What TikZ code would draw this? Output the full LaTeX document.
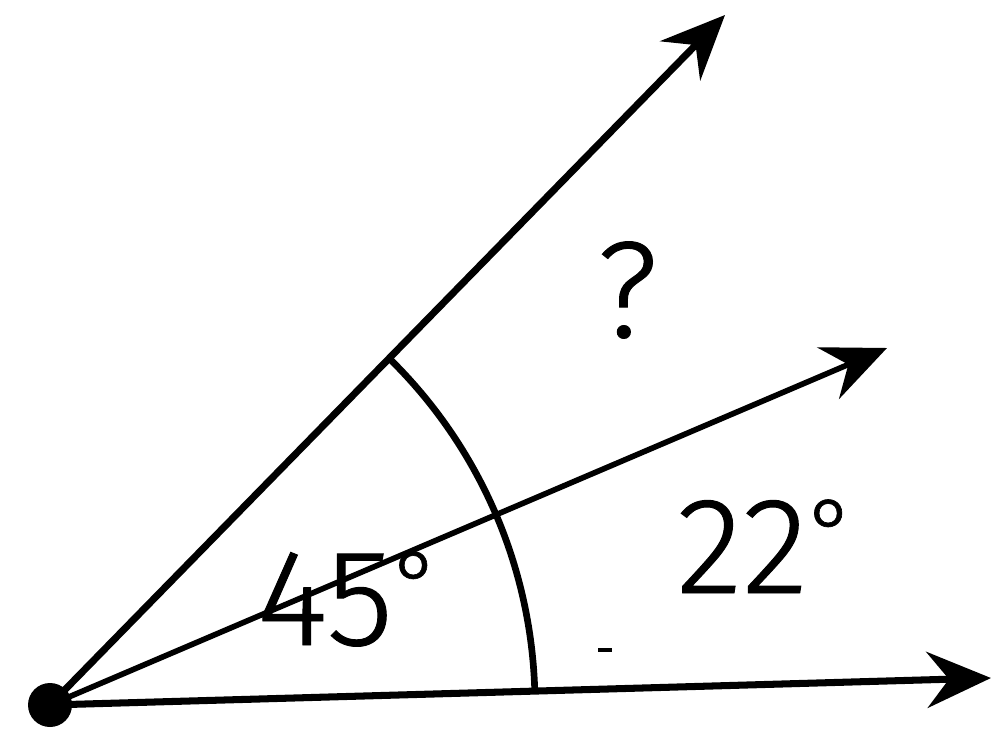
\documentclass[tikz,border=0pt]{standalone}
\usepackage{fontspec}
\setmainfont{TeX Gyre Heros}
\newfontfamily\labfont[FakeBold=0.7]{Fira Sans Light}
\usetikzlibrary{arrows.meta}
\newcommand{\degsym}{{\fontsize{26}{26}\selectfont\raisebox{8.5pt}{°}}}
\tikzset{
  ray/.style={line width=2pt, -{Stealth[length=0.64cm, width=0.56cm, inset=0.22cm]}},
  thinray/.style={ray, line width=1.6pt},
  anglelabel/.style={inner sep=0pt, font=\labfont\fontsize{39}{40}\selectfont}
}
\begin{document}
\begin{tikzpicture}[x=0.01cm, y=0.01cm]
\useasboundingbox (0,0) rectangle (993,738);
\coordinate (O) at (50,33);
\coordinate (B) at (991,60);
\coordinate (M) at (887,390);
\coordinate (T) at (725,723);
\draw[ray] (O) -- (B);
\draw[thinray] (O) -- (M);
\draw[ray] (O) -- (T);
\draw[line width=1.9pt] (O) ++(1.64:485) arc[start angle=1.64, end angle=45.6, radius=485];
\fill (O) circle[radius=22];
\node[anglelabel, anchor=base west] (q) at (596,401) {?};
\node[anglelabel, anchor=base west] (a45) at (256,93) {45\degsym};
\node[anglelabel, anchor=base west] (a22) at (676,145) {22\degsym};
\coordinate (d1) at (598,88);
\coordinate (d2) at (612,88);
\draw[line width=1.3pt] (d1) -- (d2);
\end{tikzpicture}
\end{document}
